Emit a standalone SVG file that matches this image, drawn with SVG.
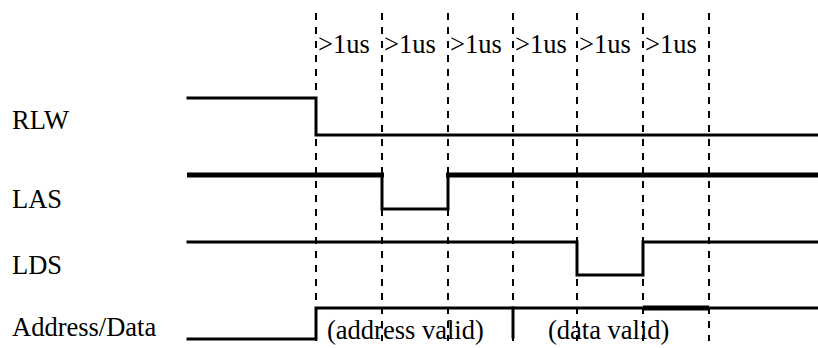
<svg xmlns="http://www.w3.org/2000/svg" width="818" height="348" viewBox="0 0 818 348">
<style>
  text { font-family: "Liberation Serif", "Times New Roman", serif; font-size: 26.5px; fill: #000; }
  .grid { stroke: #000; stroke-width: 2; stroke-dasharray: 7 7; fill: none; }
  .sig { stroke: #000; stroke-width: 3; fill: none; stroke-linejoin: miter; stroke-linecap: square; }
  .thick { stroke: #000; stroke-width: 5; fill: none; stroke-linecap: butt; }
</style>
<rect width="818" height="348" fill="#fff"/>
<g id="grid">
  <line class="grid" x1="316" y1="13" x2="316" y2="341"/>
  <line class="grid" x1="382" y1="13" x2="382" y2="341"/>
  <line class="grid" x1="448" y1="13" x2="448" y2="341"/>
  <line class="grid" x1="513" y1="13" x2="513" y2="341"/>
  <line class="grid" x1="577" y1="13" x2="577" y2="341"/>
  <line class="grid" x1="643" y1="13" x2="643" y2="341"/>
  <line class="grid" x1="709" y1="13" x2="709" y2="341"/>
</g>
<g id="intervals">
  <text x="318" y="53">&gt;1us</text>
  <text x="384" y="53">&gt;1us</text>
  <text x="450" y="53">&gt;1us</text>
  <text x="515" y="53">&gt;1us</text>
  <text x="579" y="53">&gt;1us</text>
  <text x="645" y="53">&gt;1us</text>
</g>
<g id="rlw">
  <text x="12" y="129">RLW</text>
  <path class="sig" d="M188,98 H316 V135 H818"/>
</g>
<g id="las">
  <text x="12" y="208">LAS</text>
  <line class="thick" x1="187" y1="175" x2="384" y2="175"/>
  <path class="sig" d="M382,175 V209 H448 V175"/>
  <line class="thick" x1="446" y1="175" x2="818" y2="175"/>
</g>
<g id="lds">
  <text x="12" y="274">LDS</text>
  <path class="sig" d="M188,242 H577 V275 H643 V242 H818"/>
</g>
<g id="address-data">
  <text x="12" y="336">Address/Data</text>
  <path class="sig" d="M188,339 H316 V308 H818"/>
  <line class="thick" x1="643" y1="308" x2="709" y2="308"/>
  <line class="sig" x1="513" y1="308" x2="513" y2="337"/>
  <text x="327" y="339">(address valid)</text>
  <text x="548" y="339">(data valid)</text>
</g>
</svg>
